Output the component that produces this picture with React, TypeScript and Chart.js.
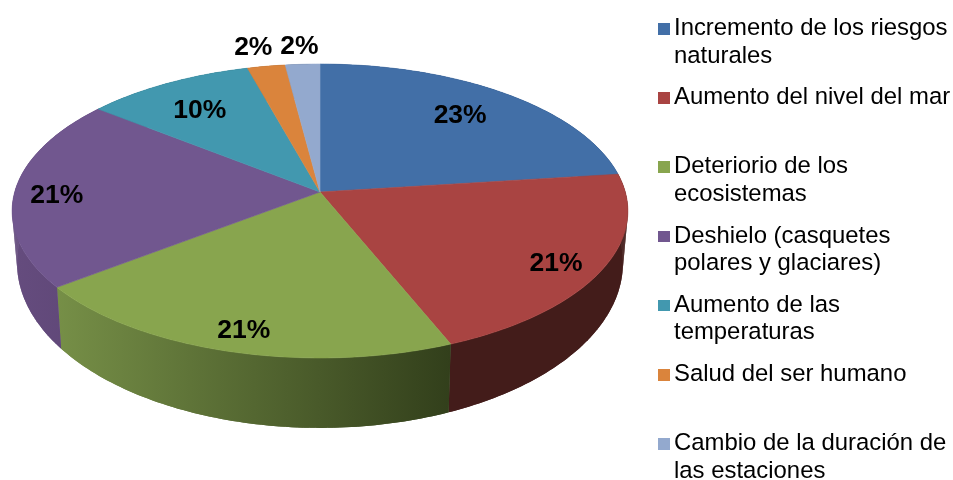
import React, { useEffect, useRef } from "react";
import { Chart, registerables } from "chart.js";

Chart.register(...registerables);

const categories = [
  ["Incremento de los riesgos", "naturales"],
  ["Aumento del nivel del mar"],
  ["Deteriorio de los", "ecosistemas"],
  ["Deshielo (casquetes", "polares y glaciares)"],
  ["Aumento de las", "temperaturas"],
  ["Salud del ser humano"],
  ["Cambio de la duración de", "las estaciones"],
];
const shares = [23, 20.85, 20.75, 21.05, 10.05, 2.25, 2.05];
const topColors = ["#426FA7", "#A94442", "#88A54E", "#71578F", "#4298AF", "#DA843C", "#93A9CE"];
const sideColors = [
  ["#2B4870", "#2B4870"],
  ["#431C1A", "#431C1A"],
  ["#768F47", "#323F1B"],
  ["#654C7E", "#5E4676"],
  ["#2B6372", "#2B6372"],
  ["#8E5627", "#8E5627"],
  ["#606E86", "#606E86"],
];
const labelRadius = [0.75, 0.85, 0.85, 0.85, 0.8, 1.15, 1.15];
const labelNudge = [[-1, -1], [-1, 6], [0, 6], [-4, 5], [4, 7], [-6, -2], [-1, -1]];

const LEGEND_TOP = 13;
const LEGEND_STEP = 69.2;

const perspectivePie = {
  id: "perspectivePie",
  beforeDatasetsDraw(chart: any) {
    const ctx = chart.ctx as CanvasRenderingContext2D;
    const arcs = chart.getDatasetMeta(0).data as any[];
    if (!arcs.length) return false;
    const cx = arcs[0].x;
    const cy = arcs[0].y;
    const R = arcs[0].outerRadius;
    const A = R * 1.59;
    const B = R * 0.7526;
    const k = 0.1293;
    const top = (a: number, f = 1) => {
      const u = Math.cos(a) * f;
      const v = Math.sin(a) * f;
      const w = 1 - k * v;
      return [cx + (A * u) / w, cy + (B * v) / w];
    };
    const ellipseMid = cy + 19;
    const low = (p: number[]) => [cx + (p[0] - cx) * 0.984, ellipseMid + 52 + (p[1] - ellipseMid) * 1.122];
    const sample = (a0: number, a1: number) => {
      const n = Math.max(2, Math.ceil(((a1 - a0) * 180) / Math.PI));
      const out: number[] = [];
      for (let i = 0; i <= n; i++) out.push(a0 + ((a1 - a0) * i) / n);
      return out;
    };

    arcs.forEach((arc, i) => {
      const pts = sample(arc.startAngle, arc.endAngle).map((a) => top(a));
      const xs = pts.map((p) => p[0]);
      const g = ctx.createLinearGradient(Math.min(...xs), 0, Math.max(...xs), 0);
      g.addColorStop(0, sideColors[i][0]);
      g.addColorStop(1, sideColors[i][1]);
      ctx.fillStyle = g;
      ctx.beginPath();
      pts.forEach((p, j) => (j ? ctx.lineTo(p[0], p[1]) : ctx.moveTo(p[0], p[1])));
      [...pts].reverse().forEach((p) => {
        const q = low(p);
        ctx.lineTo(q[0], q[1]);
      });
      ctx.closePath();
      ctx.fill();
      for (let j = 0; j < pts.length - 1; j++) {
        const a = pts[j], b = pts[j + 1], c = low(b), d = low(a);
        ctx.beginPath();
        ctx.moveTo(a[0], a[1]);
        ctx.lineTo(b[0], b[1]);
        ctx.lineTo(c[0], c[1]);
        ctx.lineTo(d[0], d[1]);
        ctx.closePath();
        ctx.fill();
      }
    });

    arcs.forEach((arc, i) => {
      ctx.beginPath();
      ctx.moveTo(cx, cy);
      sample(arc.startAngle, arc.endAngle).forEach((a) => {
        const p = top(a);
        ctx.lineTo(p[0], p[1]);
      });
      ctx.closePath();
      ctx.fillStyle = topColors[i];
      ctx.strokeStyle = topColors[i];
      ctx.lineWidth = 0.6;
      ctx.fill();
      ctx.stroke();
    });

    const total = shares.reduce((s, v) => s + v, 0);
    ctx.fillStyle = "#000";
    ctx.font = 'bold 26.5px "Liberation Sans", Arial, sans-serif';
    ctx.textAlign = "center";
    ctx.textBaseline = "middle";
    arcs.forEach((arc, i) => {
      const p = top((arc.startAngle + arc.endAngle) / 2, labelRadius[i]);
      const text = `${Math.round((shares[i] / total) * 100)}%`;
      ctx.fillText(text, p[0] + labelNudge[i][0], p[1] + labelNudge[i][1]);
    });
    return false;
  },
};

export default function App() {
  const ref = useRef<HTMLCanvasElement>(null);
  useEffect(() => {
    const chart = new Chart(ref.current as HTMLCanvasElement, {
      type: "pie",
      data: {
        labels: categories.map((c) => c.join(" ")),
        datasets: [{ data: shares, backgroundColor: topColors, borderWidth: 0 }],
      },
      options: {
        animation: false,
        responsive: false,
        layout: { padding: { left: 0, right: 313, top: 0, bottom: 96 } },
        plugins: { legend: { display: false }, tooltip: { enabled: false } },
      },
      plugins: [perspectivePie],
    });
    return () => chart.destroy();
  }, []);
  return (
    <div style={{ position: "fixed", left: 0, top: 0, width: 953, height: 480, background: "#fff", overflow: "hidden", filter: "blur(0.45px)" }}>
      <canvas ref={ref} width={953} height={480} style={{ display: "block" }} />
      {categories.map((lines, i) => (
        <div
          key={i}
          style={{
            position: "absolute",
            left: 658,
            top: LEGEND_TOP + i * LEGEND_STEP,
            font: '23.9px/27.5px "Liberation Sans", Arial, sans-serif',
            color: "#000",
            whiteSpace: "nowrap",
          }}
        >
          <span
            style={{
              position: "absolute",
              left: 0,
              top: 10,
              width: 11.5,
              height: 11.5,
              background: topColors[i],
            }}
          />
          <div style={{ marginLeft: 16 }}>
            {lines.map((l, j) => (
              <div key={j}>{l}</div>
            ))}
          </div>
        </div>
      ))}
    </div>
  );
}
